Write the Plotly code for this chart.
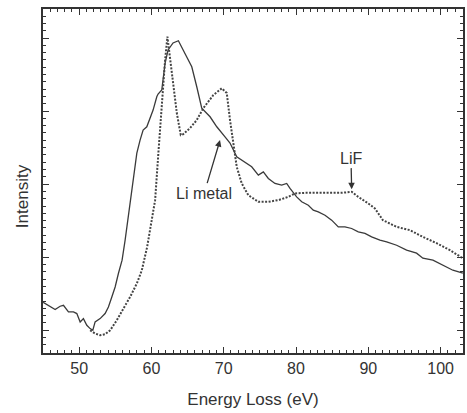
import plotly.graph_objects as go

# Li metal spectrum (solid line)
li_energy = [45.02, 45.30, 45.99, 46.68, 47.37, 47.83, 48.52, 49.21, 49.68, 50.14,
             50.59, 51.06, 51.52, 51.89, 52.21, 52.90, 53.59, 54.05, 54.52, 54.98,
             55.43, 55.94, 56.36, 56.77, 57.29, 57.98, 58.43, 58.85, 59.36, 59.81,
             60.23, 60.74, 60.92, 61.43, 61.89, 62.30, 62.99, 63.73, 64.38, 65.58,
             66.27, 66.96, 68.11, 69.04, 70.18, 70.87, 71.80, 72.49, 73.87, 74.79,
             75.48, 76.17, 77.09, 78.02, 78.71, 79.17, 80.09, 80.79, 81.70, 82.39,
             83.08, 84.01, 84.93, 85.85, 86.77, 87.70, 88.61, 89.54, 90.46, 91.61,
             92.54, 93.92, 95.30, 96.68, 97.55, 98.94, 100.32, 101.70, 103.08]
li_intensity = [0.384, 0.366, 0.319, 0.284, 0.329, 0.342, 0.251, 0.251, 0.229, 0.114,
                0.160, 0.068, 0.023, 0.000, 0.114, 0.160, 0.229, 0.319, 0.456, 0.593,
                0.777, 0.959, 1.233, 1.548, 1.963, 2.425, 2.603, 2.740, 2.785, 2.904,
                3.014, 3.196, 3.233, 3.288, 3.658, 3.836, 3.932, 3.963, 3.836, 3.607,
                3.333, 3.041, 2.922, 2.785, 2.648, 2.562, 2.374, 2.329, 2.237, 2.123,
                2.168, 2.078, 2.010, 1.986, 2.010, 1.941, 1.826, 1.758, 1.712, 1.644,
                1.621, 1.575, 1.507, 1.415, 1.415, 1.393, 1.347, 1.325, 1.278, 1.233,
                1.210, 1.164, 1.096, 1.055, 0.986, 0.959, 0.890, 0.822, 0.781]

# LiF spectrum (dotted line)
lif_energy = [51.52, 52.21, 52.90, 53.59, 54.29, 55.21, 56.12, 57.05, 57.98, 58.67,
              59.40, 60.09, 60.51, 60.96, 61.43, 61.89, 62.21, 62.81, 63.51, 64.06,
              64.42, 65.34, 66.27, 67.18, 68.57, 69.73, 70.42, 70.87, 71.33, 71.80,
              72.49, 73.40, 74.79, 76.17, 77.55, 78.93, 79.86, 81.24, 84.01, 86.32,
              87.70, 88.61, 89.99, 90.92, 92.02, 93.92, 95.76, 97.55, 99.45, 101.29,
              103.08]
lif_intensity = [0.000, -0.045, -0.068, -0.055, 0.000, 0.137, 0.297, 0.456, 0.640, 0.822,
                 1.137, 1.507, 1.781, 2.425, 3.110, 3.699, 4.018, 3.562, 2.973, 2.671,
                 2.685, 2.767, 2.877, 3.041, 3.219, 3.311, 3.247, 2.877, 2.562, 2.237,
                 2.010, 1.849, 1.758, 1.758, 1.781, 1.826, 1.873, 1.881, 1.881, 1.881,
                 1.895, 1.826, 1.736, 1.667, 1.507, 1.415, 1.370, 1.278, 1.192, 1.096,
                 0.986]

x_tick_values = [50, 60, 70, 80, 90, 100]
x_tick_labels = ["50", "60", "70", "80", "90", "100"]

ink = "#333333"
font_family = "Liberation Sans, Arial, sans-serif"
x_range = [45, 103.1]
y_range = [-0.311, 4.397]

fig = go.Figure()
fig.add_trace(go.Scatter(x=li_energy, y=li_intensity, mode="lines", name="Li metal",
                         line=dict(color="#3a3a3a", width=1.3), showlegend=False))
fig.add_trace(go.Scatter(x=lif_energy, y=lif_intensity, mode="lines", name="LiF",
                         line=dict(color="#444444", width=2, dash="2px,1.5px"),
                         showlegend=False))
# invisible trace to carry the mirrored top/right axes
fig.add_trace(go.Scatter(x=[], y=[], xaxis="x2", yaxis="y2", showlegend=False,
                         hoverinfo="skip"))

fig.add_annotation(x=69.49, y=2.603, ax=67.3, ay=1.877, xref="x", yref="y",
                   axref="x", ayref="y", text="Li metal", showarrow=True,
                   arrowhead=2, arrowsize=1, arrowwidth=1.3, arrowcolor=ink,
                   font=dict(family=font_family, size=16, color=ink))
fig.add_annotation(x=87.70, y=1.93, ax=87.60, ay=2.356, xref="x", yref="y",
                   axref="x", ayref="y", text="LiF", showarrow=True,
                   arrowhead=2, arrowsize=1, arrowwidth=1.3, arrowcolor=ink,
                   font=dict(family=font_family, size=16, color=ink))
# y-axis title placed as in the reference (slightly below the plot centre)
fig.add_annotation(x=-0.05, y=0.456, xref="paper", yref="paper", text="Intensity",
                   textangle=-90, showarrow=False, xanchor="center", yanchor="middle",
                   font=dict(family=font_family, size=17, color=ink))

minor_x = dict(dtick=1, tick0=0, ticks="inside", ticklen=3, tickcolor=ink, tickwidth=1)
minor_y = dict(dtick=0.1, tick0=0, ticks="inside", ticklen=3, tickcolor=ink, tickwidth=1)

fig.update_layout(
    width=467, height=413,
    margin=dict(l=43, r=4, t=9, b=60),
    paper_bgcolor="white", plot_bgcolor="white",
    font=dict(family=font_family, size=16, color=ink),
    xaxis=dict(
        range=x_range, tickvals=x_tick_values, ticktext=x_tick_labels,
        ticks="inside", ticklen=6, tickwidth=1.2, tickcolor=ink, minor=minor_x,
        showline=True, linecolor=ink, linewidth=1.5,
        showgrid=False, zeroline=False,
        tickfont=dict(size=16, color=ink),
        title=dict(text="Energy Loss (eV)", font=dict(size=17, color=ink), standoff=17),
    ),
    yaxis=dict(
        range=y_range, tick0=0, dtick=1, showticklabels=False,
        ticks="inside", ticklen=6, tickwidth=1.2, tickcolor=ink, minor=minor_y,
        showline=True, linecolor=ink, linewidth=1.5,
        showgrid=False, zeroline=False,
    ),
    xaxis2=dict(
        range=x_range, overlaying="x", side="top", anchor="y2",
        tickvals=x_tick_values, showticklabels=False,
        ticks="inside", ticklen=6, tickwidth=1.2, tickcolor=ink, minor=minor_x,
        showline=True, linecolor=ink, linewidth=1.5,
        showgrid=False, zeroline=False,
    ),
    yaxis2=dict(
        range=y_range, overlaying="y", side="right", anchor="x2",
        tick0=0, dtick=1, showticklabels=False,
        ticks="inside", ticklen=6, tickwidth=1.2, tickcolor=ink, minor=minor_y,
        showline=True, linecolor=ink, linewidth=1.5,
        showgrid=False, zeroline=False,
    ),
)

fig.write_html("out.html")
